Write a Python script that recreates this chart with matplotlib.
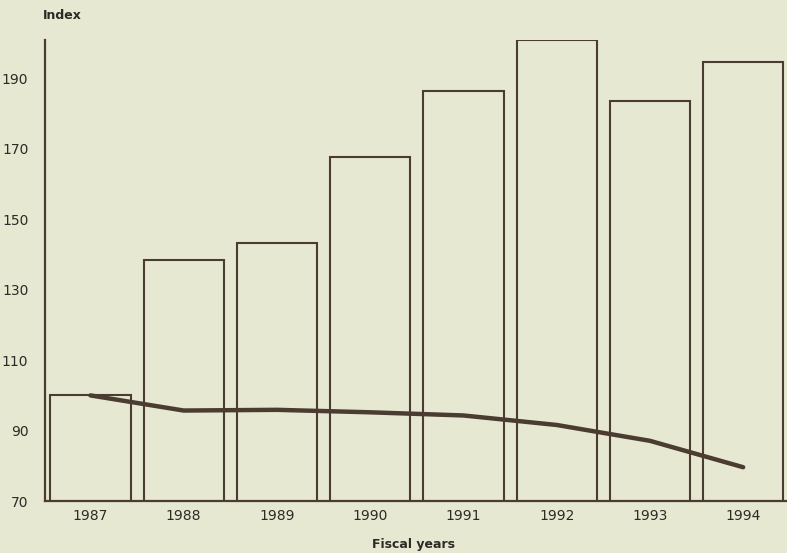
import matplotlib.pyplot as plt
import numpy as np

years = ['1987', '1988', '1989', '1990', '1991', '1992', '1993', '1994']
bar_index = [100, 138.4, 143.2, 167.6, 186.6, 201, 183.6, 194.6]
line_index = [100, 95.7, 95.9, 95.2, 94.3, 91.6, 87.1, 79.6]
y_ticks = [70, 90, 110, 130, 150, 170, 190]

bg = '#e7e8d1'
ink = '#4a3c30'

fig = plt.figure(figsize=(7.87, 5.53), dpi=100, facecolor=bg)
ax = fig.add_axes([0.0572, 0.094, 0.9428, 0.834], facecolor=bg)

x = np.arange(len(years))
ax.bar(x, bar_index, bottom=0, width=0.86, facecolor='none',
       edgecolor=ink, linewidth=1.5, zorder=2)
ax.plot(x, line_index, color=ink, linewidth=3.2, solid_capstyle='round',
        zorder=3)

ax.set_xlim(-0.487, 7.47)
ax.set_ylim(70, 201)
ax.set_yticks(y_ticks)
ax.set_xticks(x)
ax.set_xticklabels(years)
ax.tick_params(length=0, labelsize=10, labelcolor='#2e2a26', pad=6)
ax.tick_params(axis='y', pad=12)

for s in ['top', 'right']:
    ax.spines[s].set_visible(False)
for s in ['left', 'bottom']:
    ax.spines[s].set_color(ink)
    ax.spines[s].set_linewidth(1.6)

fig.text(0.0546, 0.972, 'Index', fontsize=9, fontweight='bold', color='#2e2a26',
         ha='left', va='center')
fig.text(0.525, 0.015, 'Fiscal years', fontsize=9, fontweight='bold',
         color='#2e2a26', ha='center', va='center')

fig.savefig('out.png', dpi=100, facecolor=bg)
